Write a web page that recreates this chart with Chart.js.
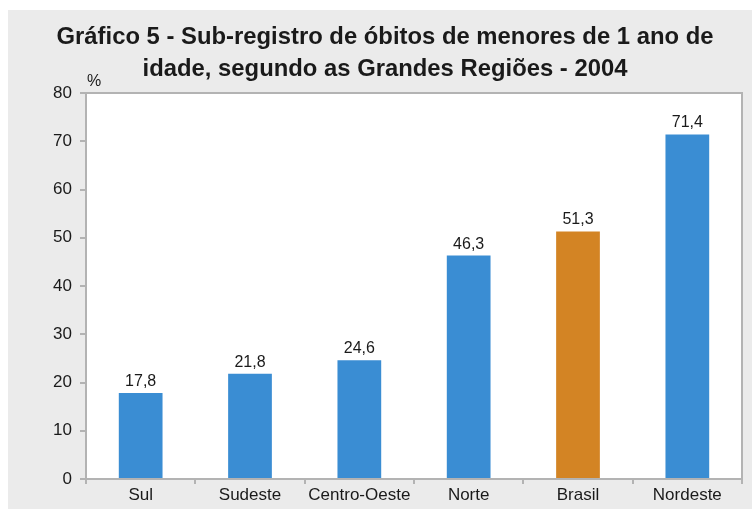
<!DOCTYPE html>
<html>
<head>
<meta charset="utf-8">
<script src="https://cdn.jsdelivr.net/npm/chart.js@4"></script>
<style>
  html, body { margin: 0; padding: 0; background: #fff; }
  #wrap { width: 752px; height: 511px; }
</style>
</head>
<body>
<div id="wrap"><canvas id="grafico" width="752" height="511"></canvas></div>
<script>
// dados do gráfico
const regioes = ['Sul', 'Sudeste', 'Centro-Oeste', 'Norte', 'Brasil', 'Nordeste'];
const subRegistro = [17.8, 21.8, 24.6, 46.3, 51.3, 71.4];
const yTicks = [0, 10, 20, 30, 40, 50, 60, 70, 80];
const tituloLinhas = ['Gráfico 5 - Sub-registro de óbitos de menores de 1 ano de',
                      'idade, segundo as Grandes Regiões - 2004'];

const AZUL = '#3a8dd3';
const LARANJA = '#d38424';
const CINZA = '#b3b3b3';
const FONTE = '"Liberation Sans", Arial, Helvetica, sans-serif';

// fundo cinza + área branca com borda
const fundoPlugin = {
    id: 'fundo',
    beforeDraw(chart) {
        const ctx = chart.ctx;
        const a = chart.chartArea;
        ctx.save();
        ctx.fillStyle = '#ebebeb';
        ctx.fillRect(8, 10, chart.width - 8, 499);
        ctx.fillStyle = '#ffffff';
        ctx.fillRect(a.left, a.top, a.right - a.left, a.bottom - a.top);
        ctx.strokeStyle = CINZA;
        ctx.lineWidth = 2;
        ctx.strokeRect(a.left, a.top, a.right - a.left, a.bottom - a.top);

        // título (condensado para a largura do original)
        ctx.fillStyle = '#1a1a1a';
        ctx.textAlign = 'center';
        ctx.textBaseline = 'alphabetic';
        ctx.font = 'bold 24px ' + FONTE;
        const escala = 657 / ctx.measureText(tituloLinhas[0]).width;
        ctx.save();
        ctx.translate(385, 0);
        ctx.scale(escala, 1);
        ctx.fillText(tituloLinhas[0], 0, 44);
        ctx.fillText(tituloLinhas[1], 0, 76);
        ctx.restore();

        // unidade
        ctx.font = '16px ' + FONTE;
        ctx.textAlign = 'left';
        ctx.fillText('%', 87, 86);
        ctx.restore();
    }
};

// rótulos de valor acima das barras
const rotulosPlugin = {
    id: 'rotulos',
    afterDatasetsDraw(chart) {
        const ctx = chart.ctx;
        const meta = chart.getDatasetMeta(0);
        ctx.save();
        ctx.fillStyle = '#1a1a1a';
        ctx.font = '16px ' + FONTE;
        ctx.textAlign = 'center';
        ctx.textBaseline = 'alphabetic';
        meta.data.forEach((bar, i) => {
            const txt = subRegistro[i].toFixed(1).replace('.', ',');
            ctx.fillText(txt, bar.x, bar.y - 7);
        });
        ctx.restore();
    }
};

new Chart(document.getElementById('grafico').getContext('2d'), {
    type: 'bar',
    data: {
        labels: regioes,
        datasets: [{
            data: subRegistro,
            backgroundColor: regioes.map(r => r === 'Brasil' ? LARANJA : AZUL),
            borderWidth: 0,
            barPercentage: 0.4,
            categoryPercentage: 1
        }]
    },
    options: {
        responsive: false,
        animation: false,
        layout: { padding: { left: 0, right: 10, top: 93, bottom: 0 } },
        plugins: {
            legend: { display: false },
            tooltip: { enabled: false },
            title: { display: false }
        },
        scales: {
            y: {
                min: 0,
                max: 80,
                afterFit(scale) { scale.width = 86; },
                afterBuildTicks(scale) { scale.ticks = yTicks.map(v => ({ value: v })); },
                grid: { drawOnChartArea: false, color: CINZA, tickLength: 6, lineWidth: 2 },
                border: { color: CINZA, width: 2 },
                ticks: { color: '#1a1a1a', font: { size: 17, family: FONTE }, padding: 8 }
            },
            x: {
                afterFit(scale) { scale.height = 32; },
                grid: { offset: true, drawOnChartArea: false, color: CINZA, tickLength: 5, lineWidth: 2 },
                border: { color: CINZA, width: 2 },
                ticks: { color: '#1a1a1a', font: { size: 17, family: FONTE }, padding: 1 }
            }
        }
    },
    plugins: [fundoPlugin, rotulosPlugin]
});
</script>
</body>
</html>
